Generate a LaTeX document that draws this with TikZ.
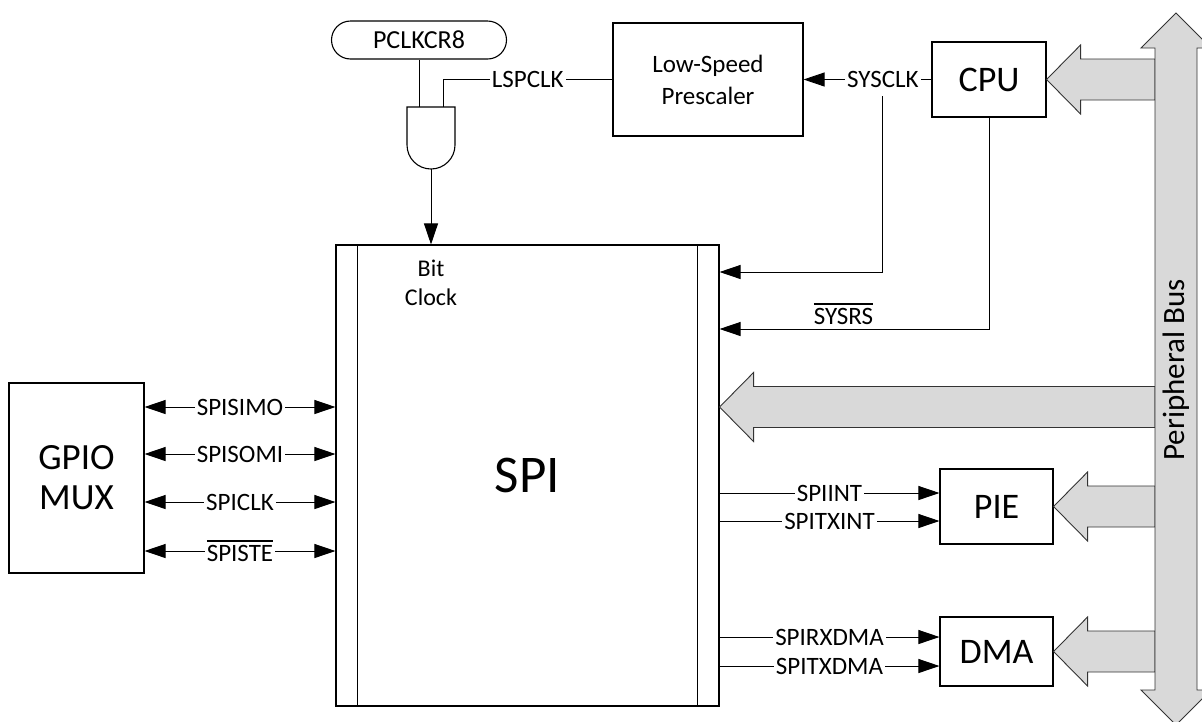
\documentclass[tikz,border=0pt]{standalone}
\usepackage{fontspec}
\setmainfont{Carlito}
\usetikzlibrary{arrows.meta, calc}
\newcommand{\sz}[2]{\fontsize{#1}{#2}\selectfont}
\newcommand{\ovl}[1]{\leavevmode\vbox{\hrule height 1.2pt \kern 3.5pt \hbox{#1}}}

\begin{document}
\begin{tikzpicture}[x=1pt,y=-1pt,
  box/.style={draw, line width=1.1pt, inner sep=0pt, align=center},
  lbl/.style={fill=white, inner sep=2pt, font=\sz{25}{30}},
  wire/.style={line width=0.9pt},
  sigto/.style={wire, -{Triangle[length=21pt,width=14pt]}},
  sigboth/.style={wire, {Triangle[length=21pt,width=14pt]}-{Triangle[length=21pt,width=14pt]}},
  busfill/.style={fill=black!15, draw=black!80, line width=0.9pt}]
\useasboundingbox (0,0) rectangle (1202,721);
\clip (0,0) rectangle (1202,721);

\node[box, minimum width=175pt, minimum height=38pt, rounded corners=19pt, font=\sz{26}{30}] (pclk) at (419,40) {PCLKCR8};
\node[box, minimum width=190pt, minimum height=113pt, font=\sz{25}{32}] (presc) at (708,79.5) {Low-Speed\\Prescaler};
\node[box, minimum width=114pt, minimum height=75pt, font=\sz{36}{40}] (cpu) at (989,79.5) {CPU};
\node[box, minimum width=383pt, minimum height=461pt, font=\sz{53}{60}] (spi) at (527.5,475.5) {SPI};
\node[box, minimum width=135pt, minimum height=190pt, font=\sz{37}{40}] (gpio) at (76.5,478) {GPIO\\MUX};
\node[box, minimum width=113pt, minimum height=75pt, font=\sz{36}{40}] (pie) at (996.5,506.5) {PIE};
\node[box, minimum width=113pt, minimum height=69pt, font=\sz{36}{40}] (dma) at (996.5,651.5) {DMA};
\node[align=center, font=\sz{24}{29}] (bitclk) at (431,283) {Bit\\Clock};
\draw[line width=1.1pt] ([xshift=22pt]spi.north west) -- ([xshift=22pt]spi.south west);
\draw[line width=1.1pt] ([xshift=-22pt]spi.north east) -- ([xshift=-22pt]spi.south east);

\draw[line width=1.1pt] (407,107) -- (455,107) -- (455,145) arc[start angle=0, end angle=180, radius=24] -- cycle;
\coordinate (gin1) at (419,107);
\coordinate (gin2) at (443,107);
\coordinate (gout) at (431,169);

\draw[wire] (pclk.south) -- (gin1);
\draw[wire] (presc.west) -| node[lbl, pos=0.25] (lspclk) {LSPCLK} (gin2);
\draw[sigto] (gout) -- (gout |- spi.north);
\draw[sigto] (cpu.west) -- node[lbl, pos=0.38] (sysclk) {SYSCLK} (presc.east);
\draw[sigto] ([yshift=-6pt]sysclk.south) |- (spi.east |- 0,272);
\draw[sigto] (cpu.south) |- node[pos=0.77, above, inner sep=4pt, font=\sz{25}{30}] (sysrs) {\ovl{SYSRS}} (spi.east |- 0,329);

\foreach \y/\s in {407/SPISIMO, 454/SPISOMI, 502/SPICLK, 551/\ovl{SPISTE}}
  \draw[sigboth] (gpio.east |- 0,\y) -- node[lbl] {\s} (spi.west |- 0,\y);
\foreach \y/\s/\n in {493/SPIINT/pie, 521/SPITXINT/pie, 637/SPIRXDMA/dma, 666/SPITXDMA/dma}
  \draw[sigto] (spi.east |- 0,\y) -- node[lbl] {\s} (\n.west |- 0,\y);

\coordinate (busl) at (1155,0);
\coordinate (spiin) at (spi.east |- 0,407);
\foreach \t in {cpu.east, pie.east, dma.east, spiin}
  \filldraw[busfill] let \p1=(\t), \p2=(busl) in
    (\p1) -- (\x1+34pt,\y1+34.5pt) -- (\x1+34pt,\y1+20.5pt) -- (\x2,\y1+20.5pt)
    -- (\x2,\y1-20.5pt) -- (\x1+34pt,\y1-20.5pt) -- (\x1+34pt,\y1-34.5pt) -- cycle;
\filldraw[busfill] (1176,13) -- (1211,48) -- (1197,48) -- (1197,690) -- (1211,690) -- (1176,725)
  -- (1141,690) -- (1155,690) -- (1155,48) -- (1141,48) -- cycle;
\node[rotate=90, font=\sz{31}{36}] (buslbl) at (1176,370) {Peripheral Bus};
\end{tikzpicture}
\end{document}
